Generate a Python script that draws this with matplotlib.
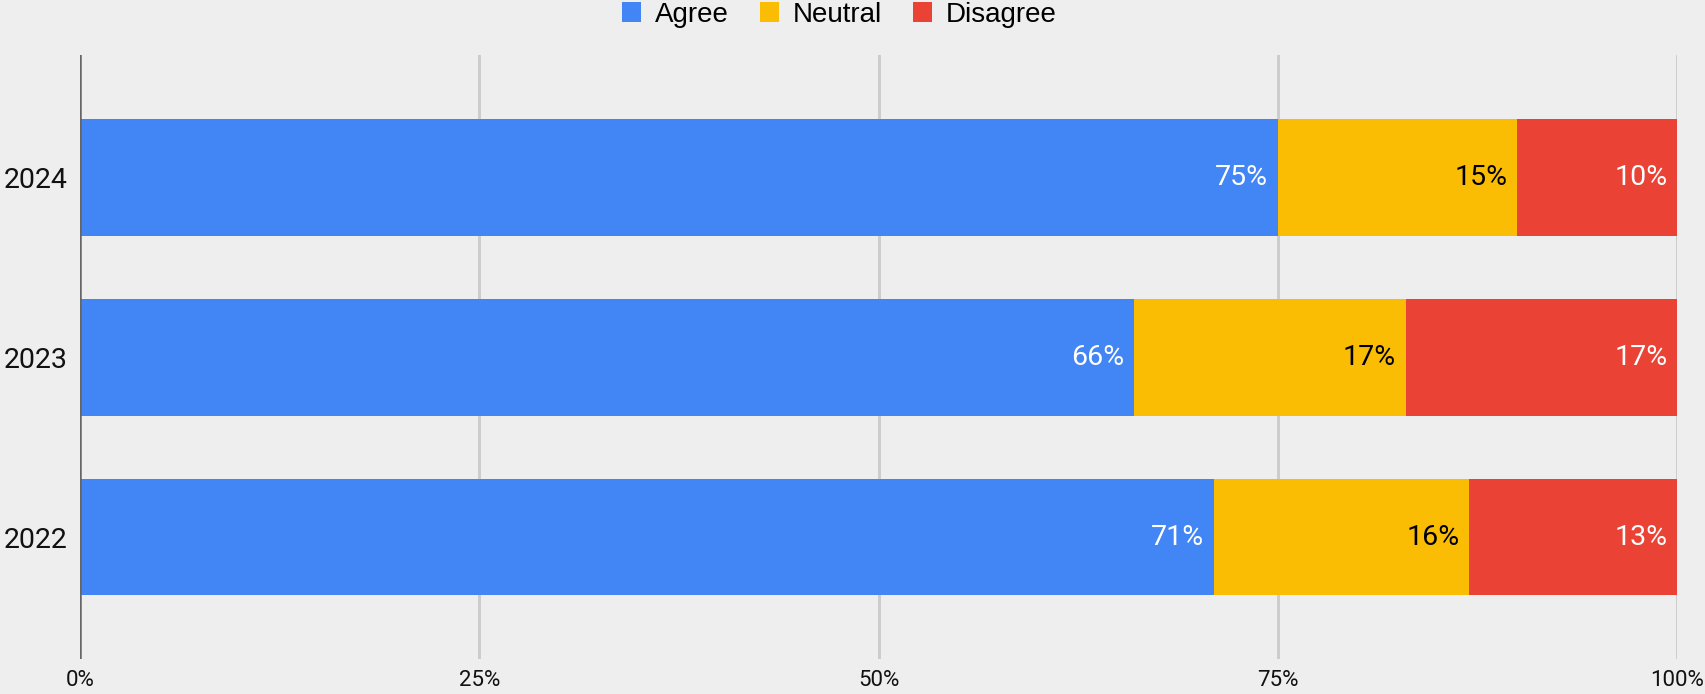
import matplotlib.pyplot as plt
from matplotlib.patches import Patch

years = ['2022', '2023', '2024']
agree = [71, 66, 75]
neutral = [16, 17, 15]
disagree = [13, 17, 10]

series = [('Agree', agree, '#4285F4', 'white'),
          ('Neutral', neutral, '#FBBC04', 'black'),
          ('Disagree', disagree, '#EA4335', 'white')]

bg = '#EEEEEE'
fig = plt.figure(figsize=(17.06, 6.94), dpi=100, facecolor=bg)
ax = fig.add_axes([0.0469, 0.0504, 0.9361, 0.8703], facecolor=bg)

# stacked horizontal bars, each segment labelled at its right end
left = [0] * len(years)
for name, vals, color, txt in series:
    bars = ax.barh(years, vals, left=left, height=0.65, color=color, zorder=3)
    for b, v in zip(bars, vals):
        ax.annotate(f'{v}%', (b.get_x() + b.get_width(), b.get_y() + b.get_height() / 2),
                    xytext=(-7, 0), textcoords='offset points', ha='right', va='center',
                    color=txt, fontsize=20.5, family='Roboto', zorder=4)
    left = [l + v for l, v in zip(left, vals)]

ax.set_xlim(0, 100)
ax.set_ylim(-0.678, 2.678)
ax.set_xticks([0, 25, 50, 75, 100])
ax.set_xticklabels(['0%', '25%', '50%', '75%', '100%'], family='Roboto', fontsize=16)
for lab in ax.get_yticklabels():
    lab.set_family('Roboto')
    lab.set_fontsize(20.5)
ax.tick_params(axis='both', length=0, colors='#111111')
ax.tick_params(axis='x', pad=8)
ax.tick_params(axis='y', pad=9)

for x in [25, 50, 75, 100]:
    ax.axvline(x, color='#CCCCCC', lw=2.1, zorder=1)
ax.axvline(0, color='#666666', lw=1.8, zorder=5)
for s in ax.spines.values():
    s.set_visible(False)

handles = [Patch(facecolor=c, label=n) for n, _, c, _ in series]
fig.legend(handles=handles, loc='center', bbox_to_anchor=(0.492, 0.979), ncol=3,
           frameon=False, prop={'family': 'Liberation Sans', 'size': 20},
           handlelength=0.7, handleheight=0.7, handletextpad=0.5, columnspacing=1.1)

fig.savefig('out.png', dpi=100, facecolor=bg)
